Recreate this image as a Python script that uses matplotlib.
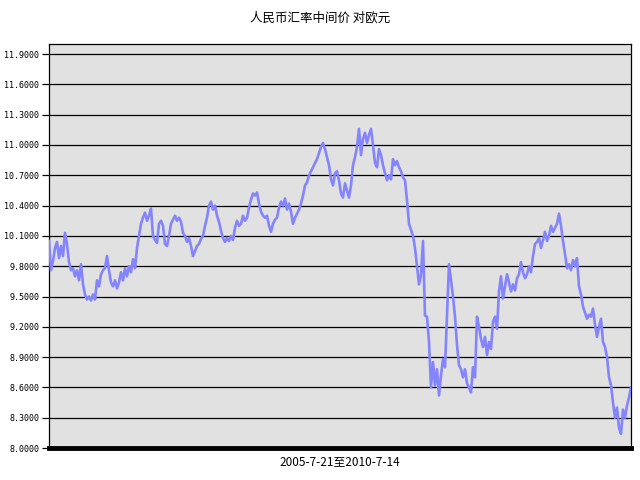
import matplotlib
matplotlib.use("Agg")
import matplotlib.pyplot as plt
import numpy as np

plt.rcParams['font.family'] = ['Noto Sans CJK SC', 'DejaVu Sans']

title = "人民币汇率中间价 对欧元"
x_label = "2005-7-21至2010-7-14"

# daily central parity CNY per EUR, sampled evenly over the period
rate_a = [10.05, 9.76, 9.85, 9.98, 10.04, 9.88, 10.00, 9.90, 10.13, 10.02,
          9.84, 9.76, 9.78, 9.70, 9.76, 9.66, 9.82, 9.62, 9.52, 9.47,
          9.50, 9.46, 9.52, 9.47, 9.66, 9.60, 9.72, 9.76, 9.78, 9.90,
          9.76, 9.64, 9.60, 9.66, 9.58, 9.64, 9.74, 9.66, 9.78, 9.70,
          9.80, 9.74, 9.87, 9.78, 9.98, 10.10, 10.22, 10.28, 10.33]
rate_b = [10.25, 10.30, 10.37, 10.10, 10.06, 10.03, 10.22, 10.25, 10.20, 10.02,
          10.00, 10.10, 10.22, 10.26, 10.30, 10.25, 10.28, 10.24, 10.13, 10.10,
          10.04, 10.08, 10.00, 9.90, 9.95, 10.00, 10.02, 10.07, 10.10, 10.20,
          10.28, 10.40, 10.44, 10.36, 10.40, 10.30, 10.24, 10.15, 10.08, 10.04,
          10.08, 10.05, 10.10, 10.06, 10.18, 10.25, 10.20]
rate_c = [10.22, 10.30, 10.25, 10.28, 10.38, 10.46, 10.52, 10.50, 10.53, 10.42,
          10.34, 10.30, 10.28, 10.30, 10.20, 10.14, 10.22, 10.26, 10.28, 10.38,
          10.44, 10.40, 10.47, 10.36, 10.42, 10.34, 10.22, 10.28, 10.32, 10.36,
          10.42, 10.50, 10.60, 10.63, 10.70, 10.74, 10.78, 10.82, 10.86, 10.92,
          10.98, 11.02, 10.96, 10.88, 10.80, 10.66, 10.60]
rate_d = [10.72, 10.74, 10.65, 10.52, 10.48, 10.62, 10.55, 10.48, 10.60, 10.80,
          10.88, 10.98, 11.16, 10.90, 11.06, 11.12, 11.02, 11.10, 11.16, 11.00,
          10.82, 10.78, 10.96, 10.90, 10.80, 10.72, 10.65, 10.70, 10.66, 10.86,
          10.80, 10.84, 10.78, 10.74, 10.68, 10.65, 10.45, 10.22, 10.16, 10.10]
rate_e = [9.98, 9.80, 9.62, 9.72, 10.05, 9.31, 9.30, 9.05, 8.60, 8.85,
          8.62, 8.78, 8.52, 8.72, 8.88, 8.80, 9.30, 9.82, 9.66, 9.50,
          9.30, 9.02, 8.82, 8.78, 8.70, 8.78, 8.64, 8.60, 8.55, 8.80,
          8.70, 9.30, 9.20, 9.08, 9.00, 9.10, 8.92, 9.05, 8.98, 9.25,
          9.30, 9.18, 9.55, 9.70, 9.48, 9.60, 9.72, 9.64]
rate_f = [9.55, 9.62, 9.56, 9.68, 9.72, 9.84, 9.74, 9.68, 9.72, 9.80,
          9.74, 9.90, 10.02, 10.04, 10.08, 9.98, 10.06, 10.14, 10.05, 10.10,
          10.20, 10.14, 10.18, 10.22, 10.32, 10.20, 10.05, 9.92, 9.78, 9.82,
          9.76, 9.86, 9.80, 9.88, 9.60, 9.52, 9.40, 9.34, 9.28, 9.32,
          9.30, 9.38, 9.22, 9.10, 9.20, 9.28, 9.05, 9.00, 8.90, 8.70,
          8.62, 8.45, 8.30, 8.40, 8.20, 8.14, 8.38, 8.30, 8.42, 8.50,
          8.60]
rate = rate_a + rate_b + rate_c + rate_d + rate_e + rate_f
y_ticks = [8.0, 8.3, 8.6, 8.9, 9.2, 9.5, 9.8, 10.1, 10.4, 10.7, 11.0, 11.3, 11.6, 11.9]

fig = plt.figure(figsize=(6.4, 4.8), dpi=100)
ax = fig.add_axes([49/640, 1 - 448/480, 582/640, 404/480])
ax.set_facecolor("#e1e1e1")

x = np.arange(len(rate))
ax.plot(x, rate, color="#8484ff", linewidth=1.9, zorder=3)

ax.set_xlim(0, len(rate) - 1)
ax.set_ylim(8.0, 12.0)
ax.set_yticks(y_ticks)
ax.set_yticklabels(["%.4f" % v for v in y_ticks], family="DejaVu Sans Mono", fontsize=6)
ax.tick_params(axis="y", length=5, width=0.9, direction="out", pad=2, colors="black")
ax.set_xticks([])
ax.yaxis.grid(True, color="black", linewidth=0.9, zorder=1)
ax.set_axisbelow(True)

for side in ["left", "right", "top"]:
    ax.spines[side].set_linewidth(0.9)
ax.spines["bottom"].set_linewidth(3.5)

ax.set_xlabel(x_label, fontsize=8.5, labelpad=5)
fig.text(0.5, 1 - 18/480, title, ha="center", va="center", fontsize=9)

fig.savefig("out.png", dpi=100, facecolor="white")
